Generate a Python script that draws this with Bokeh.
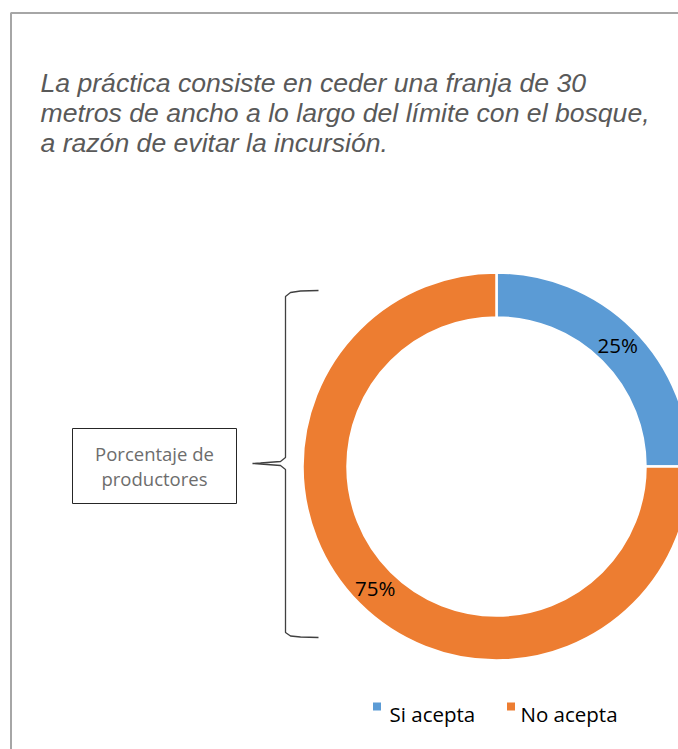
import math
from bokeh.plotting import figure
from bokeh.models import Range1d, ColumnDataSource
from bokeh.core.properties import value
from bokeh.embed import file_html
from bokeh.resources import INLINE

# ---- data ----
categories = ["Si acepta", "No acepta"]
percentages = [25, 75]
colors = ["#5B9BD5", "#ED7D31"]
title_lines = [
    "La práctica consiste en ceder una franja de 30",
    "metros de ancho a lo largo del límite con el bosque,",
    "a razón de evitar la incursión.",
]
box_lines = ["Porcentaje de", "productores"]

# ---- layout (screen pixel coordinates) ----
W, H = 678, 749


def sy(y):
    # screen y -> data y
    return H - y


p = figure(width=W, height=H, output_backend="svg", toolbar_location=None,
           x_axis_location=None, y_axis_location=None, min_border=0,
           x_range=Range1d(0, W), y_range=Range1d(0, H))
p.grid.visible = False
p.outline_line_color = None
p.background_fill_color = "white"
p.border_fill_color = "white"

# chart frame (extends past right / bottom edges)
p.line(x=[10.5, 10.5, 720], y=[sy(800), sy(12.5), sy(12.5)],
       line_color="#A6A6A6", line_width=2)

# title
for i, t in enumerate(title_lines):
    p.text(x=[40], y=[sy(82 + 30 * i)], text=[t], text_font=value("Liberation Sans"),
           text_font_style="italic", text_font_size="26.6px", text_color="#595959",
           text_baseline="alphabetic", text_align="left")

# donut
cx, cy = 496, sy(466)
r_in, r_out = 149, 194
total = sum(percentages)
starts, ends, lx, ly, labels = [], [], [], [], []
cum = 0.0
for v in percentages:
    a0 = math.pi / 2 - 2 * math.pi * (cum + v) / total
    a1 = math.pi / 2 - 2 * math.pi * cum / total
    starts.append(a0)
    ends.append(a1)
    mid = (a0 + a1) / 2
    rm = (r_in + r_out) / 2
    lx.append(cx + rm * math.cos(mid))
    ly.append(cy + rm * math.sin(mid))
    labels.append(f"{v}%")
    cum += v

src = ColumnDataSource(dict(start=starts, end=ends, color=colors, cat=categories))
p.annular_wedge(x=cx, y=cy, inner_radius=r_in, outer_radius=r_out,
                start_angle="start", end_angle="end", fill_color="color",
                line_color="white", line_width=2.5, source=src)
p.text(x=lx, y=ly, text=labels, text_font=value("Open Sans"), text_font_size="20.5px",
       text_color="black", text_align="center", text_baseline="middle")

# brace
bx = 285
top, mid_y, bot = 291, 463, 636
bxs, bys = [], []
bxs += [318, 300, 290, bx]
bys += [290, 290.5, 292, 296]
bxs += [bx, bx, 280, 260, 252]
bys += [300, mid_y - 6, mid_y - 2, mid_y - 0.5, mid_y]
bxs += [260, 280, bx, bx, bx, 290, 300, 318]
bys += [mid_y + 0.5, mid_y + 2, mid_y + 6, mid_y + 10, bot - 4, bot - 0.5, bot + 0.5, bot + 1]
p.line(x=bxs, y=[sy(v) for v in bys], line_color="#404040", line_width=1.3)

# text box
p.quad(left=72, right=236, top=sy(428), bottom=sy(503), fill_color="white",
       line_color="#262626", line_width=1)
for i, t in enumerate(box_lines):
    p.text(x=[154], y=[sy(453 + 25 * i)], text=[t], text_font=value("Open Sans"),
           text_font_size="18.5px", text_color="#6D6D6D", text_align="center",
           text_baseline="middle")

# legend
leg_sq_x = [376.5, 510.5]
leg_txt_x = [389, 520]
p.rect(x=leg_sq_x, y=[sy(706)] * 2, width=8, height=8, fill_color=colors, line_color=None)
p.text(x=leg_txt_x, y=[sy(713)] * 2, text=categories, text_font=value("Open Sans"),
       text_font_size="20.5px", text_color="black", text_align="left",
       text_baseline="alphabetic")

open("out.html", "w").write(file_html(p, INLINE))
